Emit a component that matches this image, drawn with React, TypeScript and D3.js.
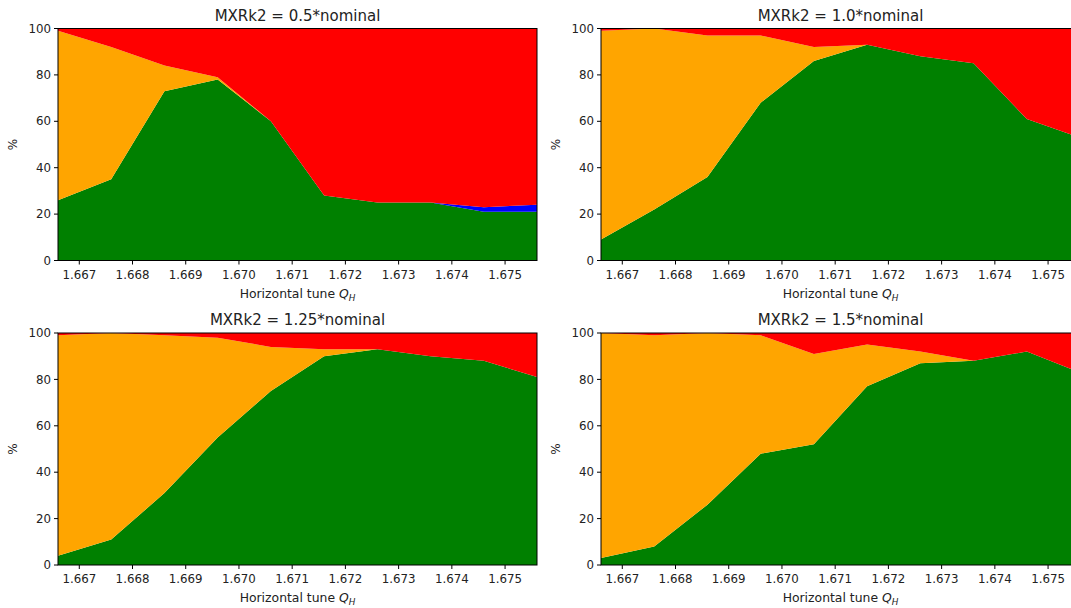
import React from "react";
import * as d3 from "d3";

const tunes = [1.6666, 1.6676, 1.6686, 1.6696, 1.6706, 1.6716, 1.6726, 1.6736, 1.6746, 1.6756];
const xTicks = [1.667, 1.668, 1.669, 1.67, 1.671, 1.672, 1.673, 1.674, 1.675];
const yTicks = [0, 20, 40, 60, 80, 100];
const titles = ["MXRk2 = 0.5*nominal", "MXRk2 = 1.0*nominal", "MXRk2 = 1.25*nominal", "MXRk2 = 1.5*nominal"];
const seriesKeys = ["green", "orange", "blue", "red"];
const seriesColors = ["#008000", "#FFA500", "#0000FF", "#FF0000"];

const green05 = [26, 35, 73, 78, 60, 28, 25, 25, 21, 21];
const orange05 = [73, 57, 11, 1, 0, 0, 0, 0, 0, 0];
const blue05 = [0, 0, 0, 0, 0, 0, 0, 0, 2, 3];
const red05 = [1, 8, 16, 21, 40, 72, 75, 75, 77, 76];

const green10 = [9, 22, 36, 68, 86, 93, 88, 85, 61, 53];
const orange10 = [90, 78, 61, 29, 6, 0, 0, 0, 0, 0];
const blue10 = [0, 0, 0, 0, 0, 0, 0, 0, 0, 0];
const red10 = [1, 0, 3, 3, 8, 7, 12, 15, 39, 47];

const green125 = [4, 11, 31, 55, 75, 90, 93, 90, 88, 81];
const orange125 = [95, 89, 68, 43, 19, 3, 0, 0, 0, 0];
const blue125 = [0, 0, 0, 0, 0, 0, 0, 0, 0, 0];
const red125 = [1, 0, 1, 2, 6, 7, 7, 10, 12, 19];

const green15 = [3, 8, 26, 48, 52, 77, 87, 88, 92, 83];
const orange15 = [97, 91, 74, 51, 39, 18, 5, 0, 0, 0];
const blue15 = [0, 0, 0, 0, 0, 0, 0, 0, 0, 0];
const red15 = [0, 1, 0, 1, 9, 5, 8, 12, 8, 17];

const panelSeries = [
  [green05, orange05, blue05, red05],
  [green10, orange10, blue10, red10],
  [green125, orange125, blue125, red125],
  [green15, orange15, blue15, red15],
];

const W = 1071;
const H = 608;
const axW = 479;
const axH = 232;
const lefts = [58, 601];
const tops = [28.5, 333];
const FONT = "DejaVu Sans, sans-serif";

function Panel({ idx }: { idx: number }) {
  const left = lefts[idx % 2];
  const top = tops[Math.floor(idx / 2)];
  const x = d3.scaleLinear().domain([tunes[0], tunes[tunes.length - 1]]).range([0, axW]);
  const y = d3.scaleLinear().domain([0, 100]).range([axH, 0]);
  const rows = tunes.map((t, i) => {
    const r: any = { t };
    seriesKeys.forEach((k, s) => (r[k] = panelSeries[idx][s][i]));
    return r;
  });
  const stacked = d3.stack().keys(seriesKeys)(rows);
  const area = d3
    .area<any>()
    .x((d: any) => x(d.data.t))
    .y0((d: any) => y(d[0]))
    .y1((d: any) => y(d[1]));
  const clipId = `clip${idx}`;
  return (
    <g transform={`translate(${left},${top})`}>
      <defs>
        <clipPath id={clipId}>
          <rect x={0} y={0} width={axW} height={axH} />
        </clipPath>
      </defs>
      <g clipPath={`url(#${clipId})`}>
        {stacked.map((s, i) => (
          <path key={i} d={area(s as any) || ""} fill={seriesColors[i]} stroke="none" />
        ))}
      </g>
      <rect x={0} y={0} width={axW} height={axH} fill="none" stroke="#000" strokeWidth={1} />
      {xTicks.map((t) => (
        <g key={t} transform={`translate(${x(t)},${axH})`}>
          <line y1={0} y2={4} stroke="#000" strokeWidth={1} />
          <text y={18} textAnchor="middle" fontSize={11.8} fontFamily={FONT} fill="#222">
            {d3.format(".3f")(t)}
          </text>
        </g>
      ))}
      {yTicks.map((t) => (
        <g key={t} transform={`translate(0,${y(t)})`}>
          <line x1={0} x2={-4} stroke="#000" strokeWidth={1} />
          <text x={-7} dy="0.35em" textAnchor="end" fontSize={11.8} fontFamily={FONT} fill="#222">
            {t}
          </text>
        </g>
      ))}
      <text x={axW / 2} y={-8} textAnchor="middle" fontSize={15} fontFamily={FONT} fill="#222">
        {titles[idx]}
      </text>
      <text x={axW / 2} y={axH + 37} textAnchor="middle" fontSize={12.4} fontFamily={FONT} fill="#222">
        Horizontal tune <tspan fontStyle="italic">Q</tspan>
        <tspan fontStyle="italic" fontSize={8.8} dy={3}>H</tspan>
      </text>
      <text
        transform={`translate(-41,${axH / 2}) rotate(-90)`}
        textAnchor="middle"
        fontSize={12}
        fontFamily={FONT}
        fill="#222"
      >
        %
      </text>
    </g>
  );
}

export default function App() {
  return (
    <svg
      width={W}
      height={H}
      viewBox={`0 0 ${W} ${H}`}
      style={{ position: "absolute", left: 0, top: 0, background: "#fff" }}
    >
      <rect width={W} height={H} fill="#fff" />
      {[0, 1, 2, 3].map((i) => (
        <Panel key={i} idx={i} />
      ))}
    </svg>
  );
}
